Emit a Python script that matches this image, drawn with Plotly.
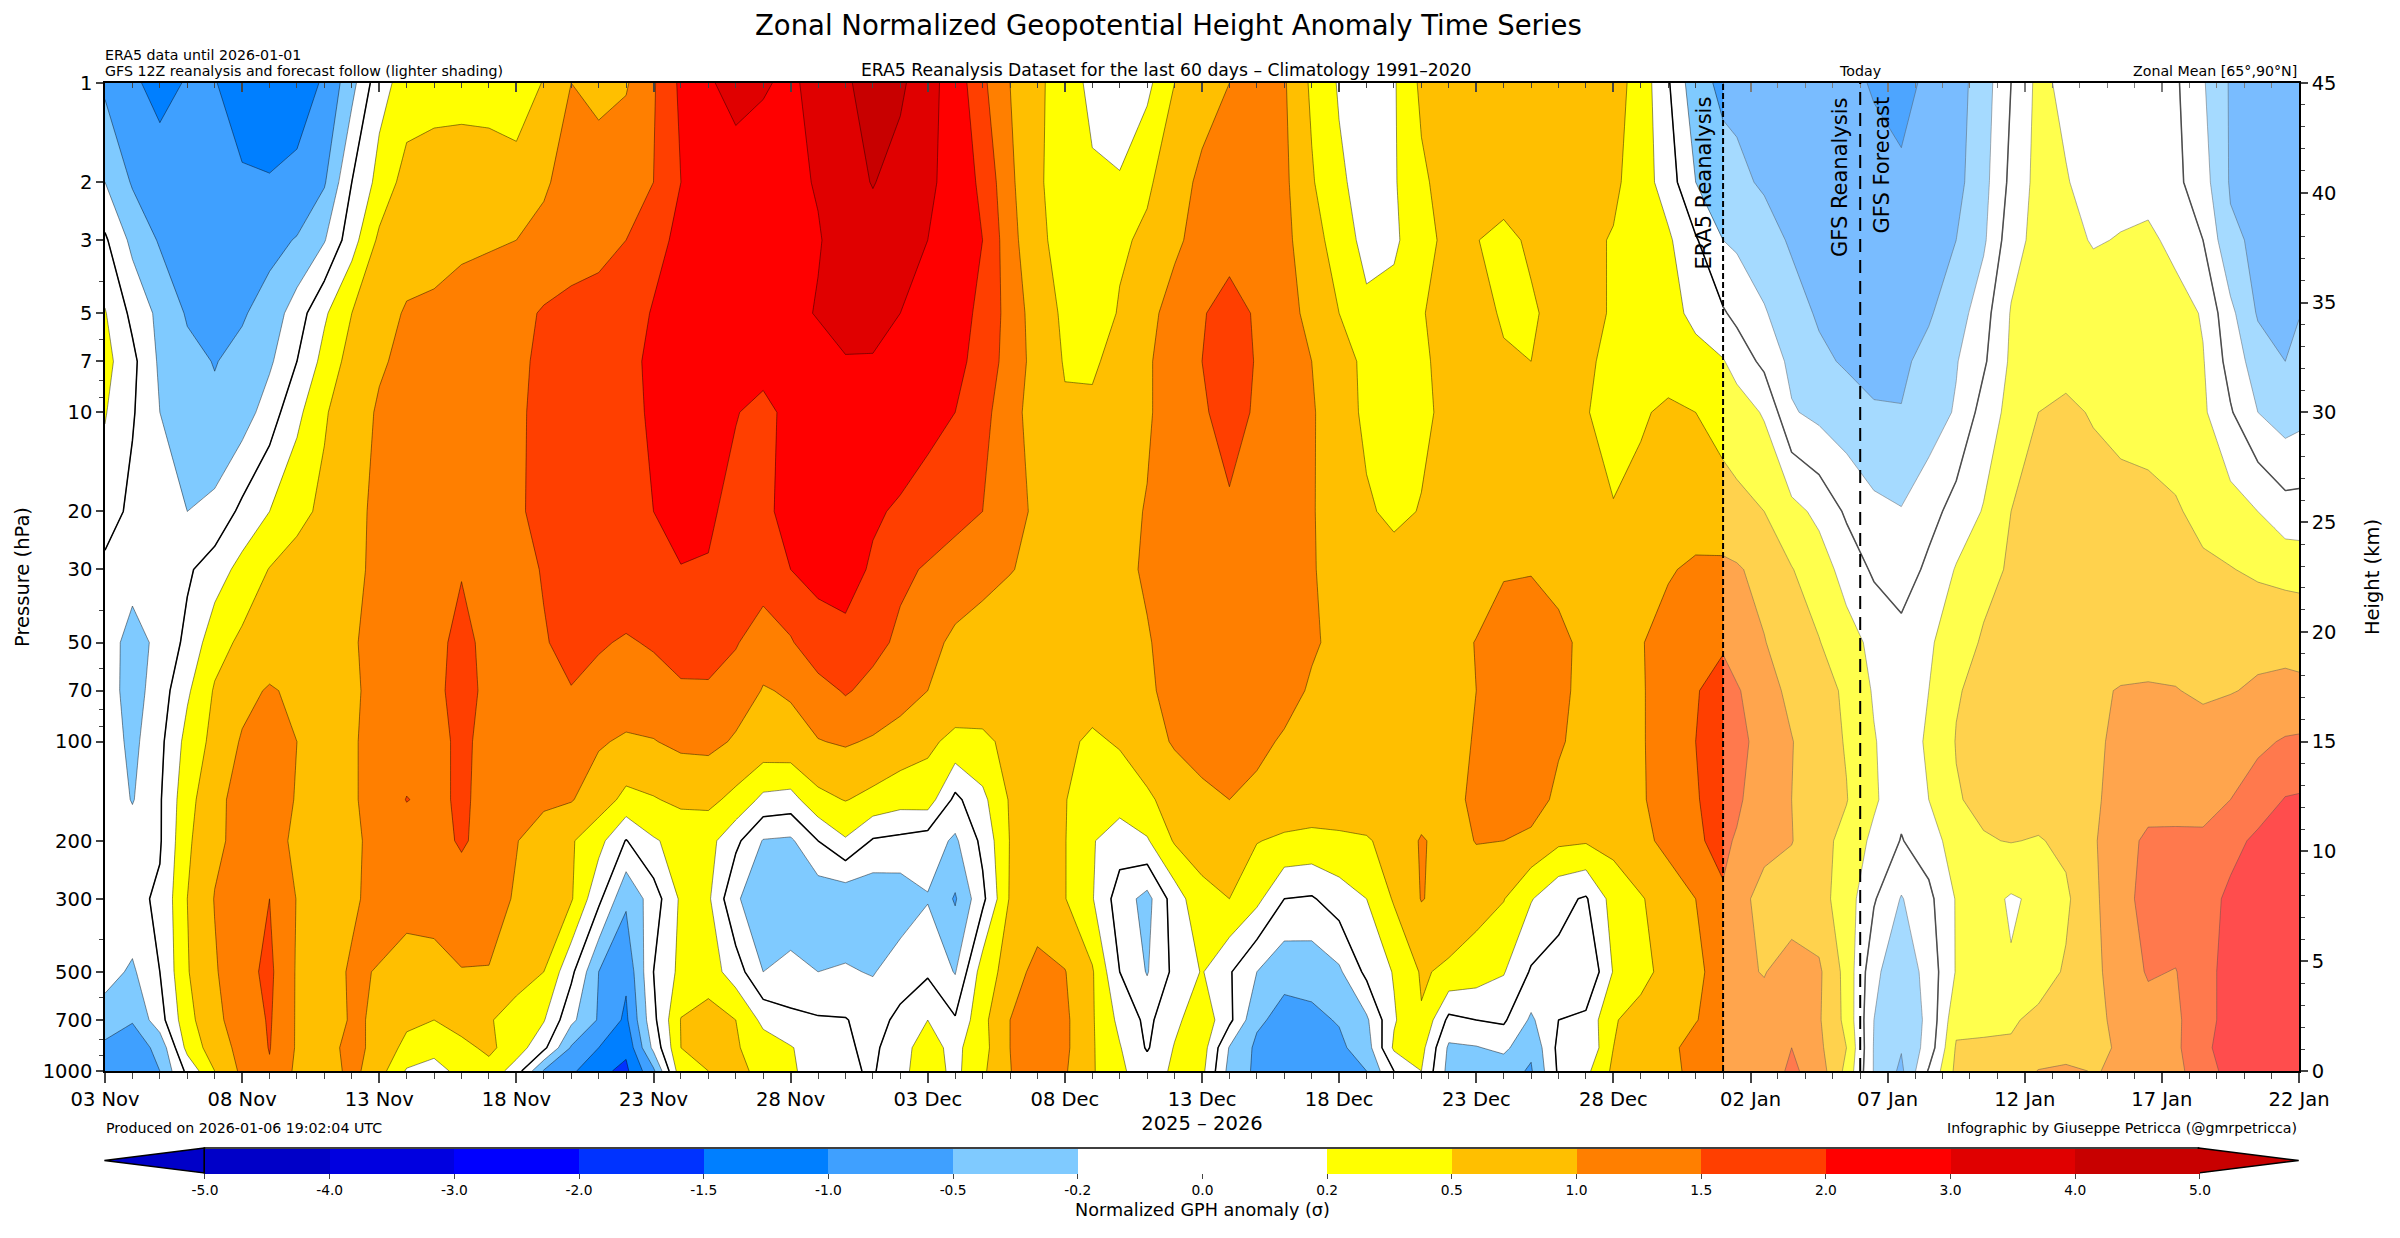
import numpy as np
import pandas as pd
import plotly.graph_objects as go

# pressure levels (hPa)
levels_hpa = [1, 2, 3, 5, 7, 10, 20, 30, 50, 70, 100, 150, 200, 300, 500, 700, 850, 1000]

# ERA5 is daily up to 1 Jan, GFS is 12Z after that
era5_times = pd.date_range('2025-11-03', '2026-01-01', freq='D')
gfs_times = pd.date_range('2026-01-01 12:00', '2026-01-21 12:00', freq='D')
times = list(era5_times) + list(gfs_times) + [pd.Timestamp('2026-01-22')]

# normalized anomaly per level: 60 ERA5 columns, then 22 GFS columns
gph_1 = [-.6,-.9,-1.2,-.95,-.98,-1.2,-1.3,-1.2,-.95,-.3, .13,.32,.35,.35,.3,.2,.55,1.0,.85,.95,
         1.45,2.2,2.9,3.3,3.05,2.9,3.2,3.9,4.3,4.2, 3.3,2.6,1.6,1.0,.6,.35,.15,.1,.15,.5,
         .8,1.0,1.2,1.05,.45,.18,.1,.18,.6,.8, .85,.85,.85,.85,.8,.7,.38,.02,-.4,-.6,
         -.6,-.7,-.75,-.8,-.85,-1.05,-1.15,-.9,-.7,-.35,0,.28,.15,.1,.1,.08,.03,-.18,-.55,-.65,-.75,-.78]
gph_2 = [-.2,-.55,-.7,-.8,-.85,-.95,-.97,-.9,-.55,0, .3,.7,.8,.85,.9,.85,.95,1.15,1.25,1.35,
         1.5,2.0,2.3,2.6,2.75,2.85,3.05,3.6,4.05,3.6, 3.2,2.6,1.9,1.1,.55,.4,.24,.22,.45,.8,
         1.1,1.3,1.3,1.1,.55,.25,.12,.18,.45,.7, .8,.8,.8,.75,.7,.6,.35,.1,-.2,-.4,
         -.45,-.55,-.65,-.72,-.75,-.8,-.92,-.85,-.65,-.3,.05,.3,.22,.12,.12,.1,.05,-.12,-.55,-.68,-.72,-.72]
gph_3 = [.03,-.28,-.55,-.62,-.7,-.72,-.65,-.48,-.22,.12, .6,.75,.8,.9,.95,1.0,1.1,1.25,1.3,1.5,
         1.9,2.15,2.3,2.5,2.6,2.8,2.95,3.3,3.6,3.4, 3.0,2.5,2.0,1.2,.55,.45,.4,.45,.6,.9,
         1.2,1.4,1.35,1.15,.65,.4,.12,.16,.42,.6, .52,.4,.6,.7,.6,.48,.4,.25,.02,-.2,
         -.25,-.4,-.55,-.65,-.7,-.72,-.75,-.7,-.5,-.25,.12,.3,.32,.18,.22,.28,.13,0,-.45,-.58,-.65,-.68]
gph_5 = [.22,-.05,-.28,-.55,-.65,-.55,-.38,-.1,.17,.5, .8,1.05,1.1,1.2,1.25,1.35,1.55,1.65,1.75,1.85,
         2.05,2.2,2.3,2.4,2.5,2.8,3.05,3.3,3.25,3.0, 2.7,2.35,1.9,1.3,.75,.45,.3,.55,.85,1.2,
         1.48,1.6,1.47,1.2,.85,.5,.28,.32,.48,.7, .75,.45,.45,.7,.6,.48,.42,.3,.15,.02,
         -.05,-.18,-.4,-.55,-.6,-.65,-.68,-.55,-.35,-.08,.22,.35,.42,.42,.42,.42,.35,.18,-.15,-.55,-.62,-.52]
gph_7 = [.3,.05,-.25,-.42,-.52,-.42,-.25,0,.3,.7, .95,1.1,1.2,1.25,1.3,1.45,1.55,1.65,1.7,1.9,
         2.15,2.2,2.2,2.3,2.4,2.55,2.7,2.95,2.95,2.8, 2.6,2.3,1.8,1.3,.8,.48,.45,.7,.95,1.2,
         1.5,1.65,1.48,1.3,1.0,.65,.45,.42,.47,.6, .65,.58,.5,.6,.52,.48,.42,.38,.3,.22,
         .12,-.05,-.28,-.45,-.55,-.6,-.58,-.42,-.22,-.03,.25,.35,.42,.42,.42,.4,.3,.22,-.08,-.35,-.5,-.42]
gph_10 = [.22,.02,-.2,-.38,-.45,-.35,-.1,.15,.47,.8, 1.05,1.15,1.2,1.25,1.35,1.47,1.55,1.65,1.75,1.9,
          2.1,2.2,2.15,2.05,1.85,2.3,2.55,2.6,2.6,2.5, 2.3,2.0,1.65,1.2,.75,.55,.6,.8,.95,1.2,
          1.45,1.65,1.45,1.3,1.05,.7,.45,.42,.45,.6, .65,.62,.58,.55,.52,.42,.47,.58,.5,.4,
          .35,.18,-.18,-.28,-.38,-.48,-.49,-.35,-.18,.08,.3,.5,.58,.48,.42,.4,.35,.25,.02,-.2,-.35,-.3]
gph_20 = [.1,-.05,-.12,-.2,-.15,.05,.2,.42,.6,.9, 1.08,1.15,1.2,1.25,1.35,1.45,1.6,1.7,1.8,1.9,
          2.0,2.2,2.15,1.85,1.9,2.3,2.4,2.3,2.1,1.95, 1.8,1.65,1.5,1.2,.9,.85,.85,.9,1.02,1.15,
          1.25,1.45,1.25,1.2,1.03,.8,.55,.45,.52,.6, .65,.65,.65,.65,.62,.52,.62,.7,.7,.68,
          .62,.5,.3,.15,-.03,-.15,-.19,-.08,.08,.22,.5,.6,.65,.68,.65,.62,.55,.42,.32,.2,.08,.08]
gph_30 = [-.05,-.12,-.08,-.03,.1,.3,.52,.68,.82,.95, 1.05,1.1,1.15,1.48,1.3,1.4,1.52,1.6,1.7,1.85,
          1.9,1.99,1.97,1.9,1.85,2.0,2.2,2.3,1.95,1.6, 1.45,1.3,1.15,1.02,.9,.85,.85,.9,1.05,1.15,
          1.25,1.25,1.2,1.1,1.02,.9,.75,.65,.65,.68, .7,.95,.97,.88,.75,.8,.88,.95,1.1,1.1,
          1.05,.85,.52,.35,.12,-.03,-.12,.05,.22,.42,.55,.62,.65,.68,.68,.68,.62,.58,.52,.45,.4,.38]
gph_50 = [-.1,-.32,-.15,.05,.38,.6,.68,.75,.85,.97, 1.1,1.2,1.4,1.6,1.4,1.4,1.48,1.58,1.55,1.45,
          1.55,1.65,1.6,1.55,1.15,1.45,1.85,1.9,1.65,1.4, 1.15,.9,.8,.75,.72,.72,.75,.85,.97,1.15,
          1.3,1.4,1.35,1.25,1.05,.9,.8,.75,.72,.8, 1.02,1.25,1.3,1.1,.9,.85,.97,1.2,1.35,1.4,
          1.25,1.02,.75,.52,.32,.15,.08,.17,.38,.55,.62,.65,.72,.75,.75,.78,.8,.85,.88,.9,.92,.92]
gph_70 = [-.1,-.33,-.1,.17,.55,.85,1.05,.9,.85,.95, 1.1,1.2,1.4,1.65,1.4,1.4,1.42,1.49,1.35,1.3,
          1.3,1.45,1.47,1.2,.98,1.03,1.3,1.55,1.35,1.2, 1.0,.85,.75,.72,.7,.7,.72,.8,.95,1.1,
          1.25,1.35,1.3,1.15,.95,.85,.78,.72,.7,.8, 1.0,1.25,1.3,1.08,.9,.82,.95,1.25,1.45,1.8,
          1.55,1.2,.88,.7,.45,.18,.08,.2,.48,.62,.72,.8,.85,.92,1.03,1.05,1.02,.92,.98,1.05,1.07,1.05]
gph_100 = [-.08,-.28,-.05,.3,.65,1.05,1.15,1.0,.9,.97, 1.1,1.2,1.35,1.6,1.35,1.3,1.25,1.15,1.05,.93,
           .98,1.1,1.12,.95,.85,.9,.98,1.05,.95,.8, .6,.42,.45,.6,.68,.6,.45,.55,.8,1.05,
           1.2,1.25,1.1,.95,.85,.78,.72,.68,.68,.78, 1.05,1.25,1.3,1.05,.85,.8,.95,1.25,1.5,1.85,
           1.7,1.25,1.02,.72,.48,.22,.08,.25,.52,.62,.68,.75,.8,.92,1.1,1.15,1.2,1.22,1.25,1.4,1.55,1.58]
gph_150 = [-.05,-.22,-.02,.4,.85,1.2,1.15,.98,.9,.97, 1.1,1.52,1.35,1.6,1.3,1.2,1.1,1.03,.75,.42,
           .48,.6,.62,.42,.15,.12,.42,.52,.42,.32, .35,-.05,.15,.55,.62,.52,.35,.32,.45,.7,
           .88,1.0,.9,.82,.78,.75,.72,.7,.72,.85, 1.1,1.15,1.2,.9,.8,.8,.95,1.2,1.45,1.8,
           1.6,1.15,1.0,.72,.52,.25,.05,.2,.48,.6,.65,.72,.78,.95,1.12,1.3,1.35,1.4,1.5,1.75,2.05,2.1]
gph_200 = [-.03,-.1,-.02,.45,.9,1.15,1.1,.95,.88,.95, 1.08,1.2,1.35,1.55,1.35,1.02,.75,.55,.3,-.01,
           .18,.3,.3,.05,-.22,-.25,0,.18,-.02,-.05, -.1,-.25,.05,.52,.62,.52,.22,.1,.18,.55,
           .7,.8,.52,.45,.42,.45,.48,.62,1.05,.8, 1.02,1.0,.9,.6,.55,.65,.85,1.15,1.45,1.6,
           1.45,1.1,1.02,.65,.42,.15,-.01,.1,.35,.48,.52,.48,.6,.95,1.3,1.6,1.58,1.55,1.85,2.2,2.6,2.6]
gph_300 = [-.1,-.05,.03,.5,1.02,1.2,1.5,.98,.88,.93, 1.15,1.25,1.3,1.3,1.2,.95,.75,.55,.05,-.45,
           -.1,.25,.25,-.18,-.35,-.38,-.4,-.42,-.42,-.38, -.22,-.55,-.05,.55,.62,.52,.22,-.1,-.3,.1,
           .42,.5,.28,0,-.02,.1,.2,.55,1.02,.85, .7,.52,.22,.05,-.02,.32,.48,.7,1.0,1.45,
           1.12,.88,.75,.68,.35,.02,-.22,-.05,.22,.3,.18,.25,.45,.9,1.35,1.65,1.85,1.8,2.2,2.7,2.9,2.9]
gph_500 = [-.12,-.25,0,.48,.95,1.35,1.6,.95,.82,1.05, .98,.72,.75,.98,.98,.75,.5,.05,-.5,-.9,
           0,.28,.35,.1,-.2,-.15,-.2,-.18,-.22,-.1, -.03,-.22,.35,.7,1.2,1.02,.55,0,-.22,.05,
           .22,.02,-.2,-.42,-.4,-.25,.05,.22,.55,.45, .35,.22,-.02,-.05,-.2,.22,.42,.65,.95,1.1,
           1.08,.98,1.2,1.08,.4,-.15,-.42,-.12,.22,.3,.22,.38,.55,.9,1.2,1.55,1.48,1.85,2.3,2.6,2.7,2.7]
gph_700 = [-.35,-.48,-.08,.4,.9,1.2,1.55,.95,.75,1.05, .95,.6,.5,.7,.55,.35,.22,-.15,-.55,-1.1,
           -.05,.52,.7,.5,.15,.05,.02,.01,-.08,.05, .2,.02,.42,1.0,1.25,1.1,.55,.15,-.05,.15,
           .4,.05,-.45,-.65,-.6,-.48,-.25,.18,.48,-.05, 0,.03,-.25,0,.05,.48,.65,.8,.98,1.2,
           1.2,1.15,1.48,1.05,.42,-.2,-.45,-.15,.42,.45,.47,.6,.7,.9,1.1,1.3,1.4,1.85,2.3,2.6,2.7,2.7]
gph_850 = [-.6,-.75,-.42,.3,.75,1.15,1.52,.95,.75,1.2, .8,.42,.3,.42,.6,.35,.05,-.55,-1.0,-1.4,
           -.15,.5,.62,.55,.35,.22,.1,.03,-.05,.15, .3,.15,.4,1.0,1.5,1.1,.55,.22,-.02,.22,
           .35,-.22,-.6,-.8,-.75,-.6,-.35,.25,.3,-.25, -.22,-.15,-.45,.05,.02,.5,.7,.9,1.15,1.2,
           1.25,1.2,1.5,1.1,.5,-.22,-.48,-.12,.55,.55,.55,.7,.8,.9,1.05,1.2,1.4,1.9,2.4,2.6,2.7,2.7]
gph_1000 = [-.75,-.7,-.5,.05,.5,1.1,1.45,.9,.72,1.15, .7,.18,.12,.3,.4,.1,-.55,-.9,-1.4,-1.6,
            -.6,.4,.5,.58,.45,.25,.1,.03,-.02,.15, .35,.15,.45,.98,1.4,1.05,.55,.25,.1,.25,
            .28,-.3,-.6,-.75,-.8,-.7,-.5,0,.2,-.3, -.35,-.4,-.55,.03,.15,.6,.75,.9,1.1,1.2,
            1.25,1.2,1.6,1.25,.42,-.22,-.6,.02,.62,.65,.72,1.02,1.08,.98,1.05,1.15,1.35,1.8,2.3,2.6,2.7,2.7]

# colour bins
bounds = [-5, -4, -3, -2, -1.5, -1, -.5, -.2, 0, .2, .5, 1, 1.5, 2, 3, 4, 5]
bin_colors = ['#0000c8', '#0000e0', '#0000ff', '#0033ff', '#007fff', '#3fa0ff', '#7fcaff', '#ffffff',
              '#ffffff', '#ffff00', '#ffbf00', '#ff7f00', '#ff3f00', '#ff0000', '#e00000', '#c80000']
bound_labels = ['%.1f' % b for b in bounds]

# plot box in page pixels
W, H = 2400, 1238
L, R, T, B = 104.6, 2299, 83, 1071
def px(x):
    return (x - L) / (R - L)
def py(y):
    return (B - y) / (B - T)

z = np.array([gph_1, gph_2, gph_3, gph_5, gph_7, gph_10, gph_20, gph_30, gph_50, gph_70, gph_100,
              gph_150, gph_200, gph_300, gph_500, gph_700, gph_850, gph_1000])
# plotly contours are evenly spaced, so work in bin index space
z_bin = np.interp(z, bounds, np.arange(len(bounds)))

n = len(bin_colors)
colorscale = []
for i, c in enumerate(bin_colors):
    colorscale.append([i / n, c])
    colorscale.append([(i + 1) / n, c])

fig = go.Figure()
fig.add_trace(go.Contour(x=times, y=levels_hpa, z=z_bin, zmin=0, zmax=n, colorscale=colorscale,
                         autocontour=False, contours=dict(start=0, end=n, size=1, coloring='fill'),
                         line=dict(color='rgba(0,0,0,0.55)', width=0.8, smoothing=0), showscale=False,
                         hoverinfo='skip'))
fig.add_trace(go.Contour(x=times, y=levels_hpa, z=z_bin, autocontour=False,
                         contours=dict(start=8, end=8, size=1, coloring='none'),
                         line=dict(color='black', width=1.5, smoothing=0), showscale=False, hoverinfo='skip'))
# colorbar comes from a hidden marker so it has no contour lines on it
# (the container x came out shifted, hence the extra offset)
fig.add_trace(go.Scatter(x=[None], y=[None], mode='markers', hoverinfo='skip', showlegend=False,
                         marker=dict(color=[0], cmin=0, cmax=n, colorscale=colorscale, showscale=True,
                                     colorbar=dict(orientation='h', xref='container', yref='container',
                                                   x=((204 + 2198.5) / 2 + L + 9.5) / W, xanchor='center',
                                                   y=1 - 1149 / H, yanchor='top',
                                                   lenmode='pixels', len=1994.5, thickness=25,
                                                   thicknessmode='pixels', xpad=0, ypad=0,
                                                   outlinewidth=0,
                                                   tickmode='array', tickvals=list(range(n + 1)),
                                                   ticktext=bound_labels, ticks='outside', ticklen=5,
                                                   tickwidth=1.2, tickfont=dict(size=13.8, color='black'),
                                                   title=dict(text='Normalized GPH anomaly (σ)', side='bottom',
                                                              font=dict(size=17.6, color='black'))))))
# needed so the top and right axes get drawn
fig.add_trace(go.Scatter(x=[None], y=[None], xaxis='x2', yaxis='y2', mode='markers', showlegend=False,
                         hoverinfo='skip'))

x_range = ['2025-11-03', '2026-01-22']
day_ms = 86400000
fig.update_layout(
    width=W, height=H, autosize=False, showlegend=False,
    margin=dict(l=L, r=W - R, t=T, b=H - B, pad=0),
    paper_bgcolor='white', plot_bgcolor='white',
    font=dict(family='DejaVu Sans', color='black', size=19),
    xaxis=dict(type='date', range=x_range, tick0='2025-11-03', dtick=5 * day_ms, tickformat='%d %b',
               ticks='outside', ticklen=10, tickwidth=1.5, linecolor='black', linewidth=1.5, showline=True,
               showgrid=False, zeroline=False, tickfont=dict(size=19.5),
               minor=dict(dtick=day_ms, tick0='2025-11-03', ticks='outside', ticklen=6, tickwidth=1, showgrid=False),
               title=dict(text='2025 – 2026', font=dict(size=19.5), standoff=6)),
    xaxis2=dict(type='date', range=x_range, overlaying='x', side='top', anchor='y', tick0='2025-11-03',
                dtick=5 * day_ms, ticks='inside', ticklen=9, tickwidth=1.5, showticklabels=False,
                linecolor='black', linewidth=1.5, showline=True, showgrid=False, zeroline=False,
                minor=dict(dtick=day_ms, tick0='2025-11-03', ticks='inside', ticklen=5, tickwidth=1, showgrid=False)),
    yaxis=dict(type='log', range=[3, 0], tickmode='array',
               tickvals=[1, 2, 3, 5, 7, 10, 20, 30, 50, 70, 100, 200, 300, 500, 700, 1000],
               ticktext=['1', '2', '3', '5', '7', '10', '20', '30', '50', '70', '100', '200', '300', '500', '700', '1000'],
               ticks='outside', ticklen=7, tickwidth=1.5, linecolor='black', linewidth=1.5, showline=True,
               showgrid=False, zeroline=False, tickfont=dict(size=19.5),
               minor=dict(tickmode='array', tickvals=[4, 6, 8, 9, 40, 60, 80, 90, 400, 600, 800, 900],
                          ticks='outside', ticklen=4, tickwidth=1, showgrid=False),
               title=dict(text='Pressure (hPa)', font=dict(size=19.5), standoff=8)),
    yaxis2=dict(range=[0, 45], overlaying='y', side='right', anchor='x', tick0=0, dtick=5,
                ticks='outside', ticklen=7, tickwidth=1.5, linecolor='black', linewidth=1.5, showline=True,
                showgrid=False, zeroline=False, tickfont=dict(size=19.5),
                minor=dict(dtick=1, tick0=0, ticks='outside', ticklen=4, tickwidth=1, showgrid=False),
                title=dict(text='Height (km)', font=dict(size=19.5), standoff=30)),
)

# forecast part is washed out, plus the two divider lines
fig.add_shape(type='rect', x0='2026-01-01', x1='2026-01-22', y0=0, y1=1, xref='x', yref='paper',
              fillcolor='white', opacity=0.3, line_width=0, layer='above')
fig.add_shape(type='line', x0='2026-01-01', x1='2026-01-01', y0=0, y1=1, xref='x', yref='paper',
              line=dict(color='black', width=2, dash='6px,3px'))
fig.add_shape(type='line', x0='2026-01-06', x1='2026-01-06', y0=0, y1=1, xref='x', yref='paper',
              line=dict(color='black', width=2, dash='13px,8px'))

# colorbar end arrows and frame
for tip, base, col in [(104, 204, bin_colors[0]), (2298.7, 2198.5, bin_colors[-1])]:
    fig.add_shape(type='path', xref='paper', yref='paper', fillcolor=col, line=dict(color='black', width=1.5),
                  path='M %f %f L %f %f L %f %f Z' % (px(base), py(1148), px(tip), py(1160.5), px(base), py(1173)))
fig.add_shape(type='rect', xref='paper', yref='paper', x0=px(204), x1=px(2198.5), y0=py(1173), y1=py(1148),
              line=dict(color='black', width=1.5))

def note(text, x, y, size=14.2, anchor='left', angle=0, yanchor='middle'):
    fig.add_annotation(text=text, x=px(x), y=py(y), xref='paper', yref='paper', showarrow=False,
                       xanchor=anchor, yanchor=yanchor, textangle=angle, font=dict(size=size, color='black'))

note('Zonal Normalized Geopotential Height Anomaly Time Series', 1168, 25, size=27.5, anchor='center')
note('ERA5 data until 2026-01-01', 103, 55)
note('GFS 12Z reanalysis and forecast follow (lighter shading)', 103, 71)
note('ERA5 Reanalysis Dataset for the last 60 days – Climatology 1991–2020', 1166, 70, size=17.2, anchor='center')
note('Today', 1860, 71, anchor='center')
note('Zonal Mean [65°,90°N]', 2299, 71, anchor='right')
note('Produced on 2026-01-06 19:02:04 UTC', 104, 1128)
note('Infographic by Giuseppe Petricca (@gmrpetricca)', 2299, 1128, anchor='right')
note('ERA5 Reanalysis', 1703, 95, size=21, anchor='center', angle=-90, yanchor='top')
note('GFS Reanalysis', 1840, 95, size=21, anchor='center', angle=-90, yanchor='top')
note('GFS Forecast', 1881, 95, size=21, anchor='center', angle=-90, yanchor='top')

fig.write_html("out.html", config=dict(displayModeBar=False), post_script="document.body.style.margin='0';")
